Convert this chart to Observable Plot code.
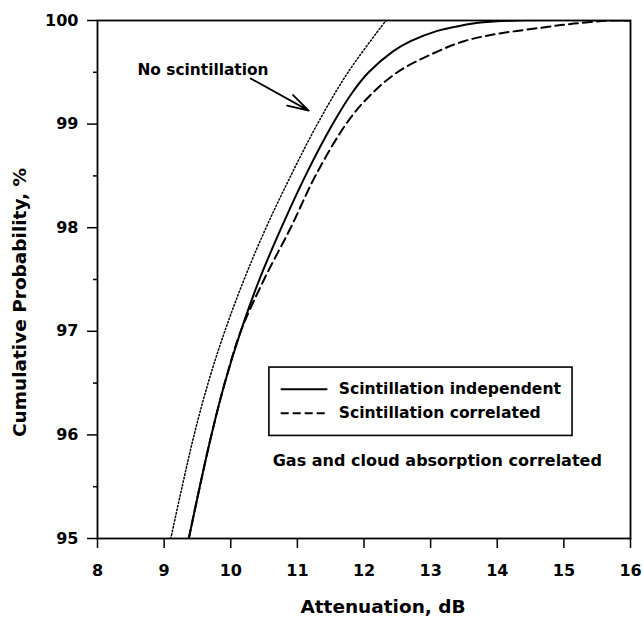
<!DOCTYPE html>
<html>
<head>
<meta charset="utf-8">
<script src="https://cdn.jsdelivr.net/npm/d3@7"></script>
<script src="https://cdn.jsdelivr.net/npm/@observablehq/plot@0.6"></script>
<style>
  html, body { margin: 0; padding: 0; background: #fff; }
  svg { display: block; }
</style>
</head>
<body>
<div id="chart"></div>
<script>
// ---- data ----
const xTicks = [8, 9, 10, 11, 12, 13, 14, 15, 16];
const yTicks = [95, 96, 97, 98, 99, 100];
const yMinorTicks = [95.5, 96.5, 97.5, 98.5, 99.5];

// No scintillation (dotted)
const noScintX = [9.10, 9.27, 9.45, 9.66, 9.91, 10.20, 10.53, 10.90, 11.30, 11.76, 12.33];
const noScintY = [95.0, 95.5, 96.0, 96.5, 97.0, 97.5, 98.0, 98.5, 99.0, 99.5, 100.0];

// Scintillation independent (solid)
const indepX = [9.37, 9.535, 9.71, 9.91, 10.15, 10.43, 10.76, 11.12, 11.53, 11.82, 12.07, 12.43, 12.70, 13.10, 13.45, 13.75, 14.3, 16.0];
const indepY = [95.0, 95.5, 96.0, 96.5, 97.0, 97.5, 98.0, 98.5, 99.0, 99.3, 99.5, 99.7, 99.8, 99.9, 99.95, 99.98, 100.0, 100.0];

// Scintillation correlated (dashed)
const corrX = [9.37, 9.535, 9.71, 9.91, 10.15, 10.50, 10.90, 11.27, 11.73, 12.05, 12.50, 13.10, 13.50, 13.90, 14.65, 15.15, 15.7, 16.0];
const corrY = [95.0, 95.5, 96.0, 96.5, 97.0, 97.5, 98.0, 98.5, 99.0, 99.25, 99.5, 99.7, 99.8, 99.86, 99.93, 99.97, 100.0, 100.0];

const seriesNames = ["No scintillation", "Scintillation independent", "Scintillation correlated"];
const xLabel = "Attenuation, dB";
const yLabel = "Cumulative Probability, %";
const noteText = "Gas and cloud absorption correlated";

// ---- annotation placement (data units) ----
const legendBox = {x1: 10.58, x2: 15.13, y1: 95.99, y2: 96.65};
const legendRows = [
  {x1: 10.75, x2: 11.45, tx: 11.62, y: 96.44, label: seriesNames[1], dash: null},
  {x1: 10.75, x2: 11.45, tx: 11.62, y: 96.21, label: seriesNames[2], dash: "8 4"}
];
const noteAt = {x: 10.63, y: 95.75};
const noScintLabelAt = {x: 8.60, y: 99.52};
const arrowAt = {x1: 10.30, y1: 99.44, x2: 11.17, y2: 99.13};

const toRows = (xs, ys) => xs.map((x, i) => ({x, y: ys[i]}));
const noScint = toRows(noScintX, noScintY);
const indep = toRows(indepX, indepY);
const corr = toRows(corrX, corrY);

const FONT = "DejaVu Sans, Verdana, sans-serif";

const chart = Plot.plot({
  width: 644,
  height: 617,
  marginLeft: 97,
  marginRight: 14,
  marginTop: 20,
  marginBottom: 79,
  style: {fontFamily: FONT, background: "#fff", color: "#000"},
  x: {domain: [8, 16]},
  y: {domain: [95, 100]},
  marks: [
    // minor y ticks
    Plot.axisY({ticks: yMinorTicks, tickSize: 4, tickFormat: () => "", label: null, strokeWidth: 1.5}),
    // major y ticks
    Plot.axisY({ticks: yTicks, tickSize: 10, tickPadding: 9, label: null, fontSize: 16, fontWeight: "bold", strokeWidth: 1.5, tickFormat: d3.format("d")}),
    // x ticks
    Plot.axisX({ticks: xTicks, tickSize: 10, tickPadding: 16, label: null, fontSize: 16, fontWeight: "bold", strokeWidth: 1.5, tickFormat: d3.format("d")}),
    // curves
    Plot.line(noScint, {x: "x", y: "y", curve: "catmull-rom", stroke: "#000", strokeWidth: 1.5, strokeDasharray: "1.4 2.2", clip: true}),
    Plot.line(indep, {x: "x", y: "y", curve: "catmull-rom", stroke: "#000", strokeWidth: 2, clip: true}),
    Plot.line(corr, {x: "x", y: "y", curve: "catmull-rom", stroke: "#000", strokeWidth: 2, strokeDasharray: "9 5", clip: true}),
    // frame
    Plot.frame({stroke: "#000", strokeWidth: 1.8}),
    // legend box
    Plot.rect([legendBox], {x1: "x1", x2: "x2", y1: "y1", y2: "y2", fill: "#fff", stroke: "#000", strokeWidth: 1.6}),
    Plot.link(legendRows.filter(d => !d.dash), {x1: "x1", x2: "x2", y1: "y", y2: "y", stroke: "#000", strokeWidth: 2}),
    Plot.link(legendRows.filter(d => d.dash), {x1: "x1", x2: "x2", y1: "y", y2: "y", stroke: "#000", strokeWidth: 2, strokeDasharray: "8 4"}),
    Plot.text(legendRows, {x: "tx", y: "y", text: "label", textAnchor: "start", lineAnchor: "middle", fontSize: 15.6, fontWeight: "bold", fill: "#000"}),
    // note
    Plot.text([noteText], {x: () => noteAt.x, y: () => noteAt.y, text: d => d, textAnchor: "start", lineAnchor: "middle", fontSize: 16, fontWeight: "bold", fill: "#000"}),
    // No scintillation label + arrow
    Plot.text([seriesNames[0]], {x: () => noScintLabelAt.x, y: () => noScintLabelAt.y, text: d => d, textAnchor: "start", lineAnchor: "middle", fontSize: 15.4, fontWeight: "bold", fill: "#000"}),
    Plot.arrow([arrowAt], {x1: "x1", y1: "y1", x2: "x2", y2: "y2", stroke: "#000", strokeWidth: 1.8, headLength: 22, headAngle: 32}),
    // axis titles
    Plot.text([xLabel], {frameAnchor: "bottom", dx: 19, dy: 69, text: d => d, textAnchor: "middle", lineAnchor: "middle", fontSize: 18.5, fontWeight: "bold", fill: "#000"}),
    Plot.text([yLabel], {frameAnchor: "left", dx: -77, dy: 23, rotate: -90, text: d => d, textAnchor: "middle", lineAnchor: "middle", fontSize: 18.5, fontWeight: "bold", fill: "#000"})
  ]
});

document.getElementById("chart").appendChild(chart);
</script>
</body>
</html>
